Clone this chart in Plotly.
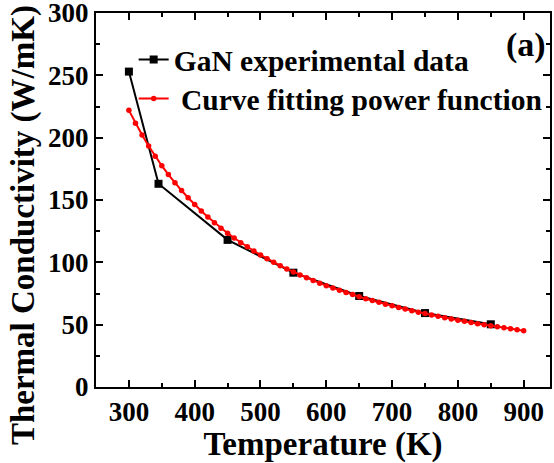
import plotly.graph_objects as go

exp_T = [300, 345, 450, 550, 650, 750, 850]
exp_k = [253, 163, 118, 91.7, 73, 59.3, 50.3]

fit_T = list(range(300, 901, 10))
fit_k = [221.9, 211.6, 202.1, 193.3, 185.1, 177.5, 170.4, 163.8, 157.6, 151.8,
         146.3, 141.2, 136.3, 131.8, 127.4, 123.4, 119.5, 115.8, 112.4, 109.1,
         105.9, 102.9, 100.1, 97.3, 94.7, 92.3, 89.9, 87.6, 85.4, 83.3,
         81.3, 79.4, 77.6, 75.8, 74.1, 72.4, 70.8, 69.3, 67.9, 66.4,
         65.1, 63.7, 62.5, 61.2, 60.0, 58.9, 57.8, 56.7, 55.6, 54.6,
         53.6, 52.7, 51.7, 50.8, 50.0, 49.1, 48.3, 47.5, 46.7, 46.0, 45.2]

x_ticks = [300, 400, 500, 600, 700, 800, 900]
y_ticks = [0, 50, 100, 150, 200, 250, 300]

FONT = "Liberation Serif"

fig = go.Figure()
fig.add_trace(go.Scatter(
    x=exp_T, y=exp_k, mode="lines+markers", name="GaN experimental data",
    line=dict(color="black", width=2),
    marker=dict(symbol="square", size=8, color="black"),
    legend="legend",
))
fig.add_trace(go.Scatter(
    x=fit_T, y=fit_k, mode="lines+markers", name=" Curve fitting power function",
    line=dict(color="red", width=2),
    marker=dict(symbol="circle", size=5.5, color="red"),
    legend="legend2",
))

axis_common = dict(
    showline=True, linecolor="black", linewidth=2, mirror="allticks",
    ticks="inside", ticklen=7, tickwidth=1.5, tickcolor="black",
    showgrid=False, zeroline=False, automargin=False,
    ticklabeloverflow="allow",
    tickfont=dict(family=FONT, size=27, color="black", weight="bold"),
    title_font=dict(family=FONT, size=33, color="black", weight="bold"),
)

fig.update_xaxes(
    range=[250, 940], tickvals=x_ticks,
    title_text="Temperature (K)",
    minor=dict(ticks="inside", ticklen=4, tickwidth=1.5, tickcolor="black", dtick=50, tick0=250),
    **axis_common,
)
fig.update_yaxes(
    range=[0, 300], tickvals=y_ticks,
    minor=dict(ticks="inside", ticklen=4, tickwidth=1.5, tickcolor="black", dtick=25, tick0=0),
    **axis_common,
)

fig.add_annotation(
    text="Thermal Conductivity (W/mK)", xref="paper", yref="paper",
    x=-0.1608, y=0.433, xanchor="center", yanchor="middle", textangle=-90,
    showarrow=False, font=dict(family=FONT, size=33, color="black", weight="bold"),
)

fig.add_annotation(
    text="(a)", xref="paper", yref="paper", x=0.996, y=0.914,
    xanchor="right", yanchor="middle", showarrow=False,
    font=dict(family=FONT, size=34, color="black", weight="bold"),
)

leg_common = dict(
    xanchor="left", yanchor="top",
    bgcolor="rgba(0,0,0,0)", borderwidth=0,
    font=dict(family=FONT, size=29.5, color="black", weight="bold"),
    itemwidth=30,
)

fig.update_layout(
    width=554, height=463,
    margin=dict(l=96, r=4, t=13, b=76),
    paper_bgcolor="white", plot_bgcolor="white",
    showlegend=True,
    legend=dict(x=0.083, y=0.944, **leg_common),
    legend2=dict(x=0.083, y=0.84, **leg_common),
)

fig.write_html("out.html", config={"displayModeBar": False},
               post_script="document.body.style.margin='0';")
